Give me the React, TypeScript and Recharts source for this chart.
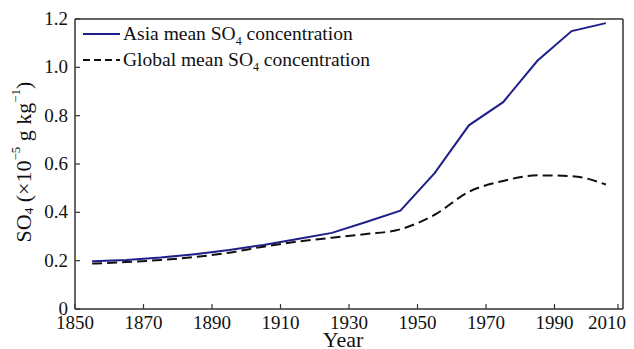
import React from "react";
import {
  LineChart,
  Line,
  XAxis,
  YAxis,
  ReferenceLine,
} from "recharts";

const years = [1855, 1865, 1875, 1885, 1895, 1905, 1915, 1925, 1935, 1945, 1955, 1965, 1975, 1985, 1995, 2005];
const asiaSO4 = [0.198, 0.203, 0.213, 0.227, 0.244, 0.265, 0.29, 0.315, 0.36, 0.407, 0.562, 0.76, 0.856, 1.027, 1.15, 1.183];
const globalSO4 = [0.188, 0.194, 0.203, 0.215, 0.233, 0.258, 0.279, 0.295, 0.31, 0.33, 0.39, 0.485, 0.53, 0.553, 0.55, 0.515];
const xTicks = [1850, 1870, 1890, 1910, 1930, 1950, 1970, 1990, 2010];
const yTicks = [0, 0.2, 0.4, 0.6, 0.8, 1.0, 1.2];

const data = years.map((year, i) => ({
  year,
  asia: asiaSO4[i],
  global: globalSO4[i],
}));

const FONT = '"Liberation Serif", "Times New Roman", serif';
const AXIS = "#333";
const ASIA = "#1f1f8a";

const XTick = ({ x, y, payload }: any) => (
  <g>
    <line x1={x} x2={x} y1={y} y2={y - 5} stroke={AXIS} strokeWidth={1.2} />
    <text
      x={payload.value === 2010 ? x - 11 : x}
      y={y + 20}
      textAnchor="middle"
      fontSize={19}
      fontFamily={FONT}
      fill="#111"
    >
      {payload.value}
    </text>
  </g>
);

const YTick = ({ x, y, payload }: any) => (
  <g>
    <line x1={x} x2={x + 5} y1={y} y2={y} stroke={AXIS} strokeWidth={1.2} />
    <text x={x - 7} y={y + 6} textAnchor="end" fontSize={19} fontFamily={FONT} fill="#111">
      {payload.value === 0 ? "0" : payload.value.toFixed(1)}
    </text>
  </g>
);

const YLabel = ({ viewBox }: any) => {
  const cx = viewBox.x + 13;
  const cy = viewBox.y + viewBox.height / 2 - 2;
  return (
    <text
      x={cx}
      y={cy}
      transform={`rotate(-90 ${cx} ${cy})`}
      textAnchor="middle"
      dominantBaseline="central"
      fontSize={22}
      fontFamily={FONT}
      fill="#111"
    >
      SO<tspan fontSize={13} dy={5}>4</tspan>
      <tspan dy={-5}> (×10</tspan>
      <tspan fontSize={13} dy={-8}>−5</tspan>
      <tspan dy={8}> g kg</tspan>
      <tspan fontSize={13} dy={-8}>−1</tspan>
      <tspan dy={8}>)</tspan>
    </text>
  );
};

const XLabel = ({ viewBox }: any) => (
  <text
    x={viewBox.x + viewBox.width / 2 - 6}
    y={347}
    textAnchor="middle"
    fontSize={22}
    fontFamily={FONT}
    fill="#111"
  >
    Year
  </text>
);

const legendRows = [
  { name: "Asia", color: ASIA, dash: undefined },
  { name: "Global", color: "#111", dash: "7 4" },
];

// drawn over the chart so it doesn't eat plot space
const LegendBox = () => (
  <div
    style={{
      position: "absolute",
      left: 83,
      top: 21,
      fontFamily: FONT,
      fontSize: 19.5,
      color: "#111",
      lineHeight: "26px",
    }}
  >
    {legendRows.map((r) => (
      <div key={r.name} style={{ display: "flex", alignItems: "center", height: 26 }}>
        <svg width={37} height={4} style={{ marginRight: 3 }}>
          <line x1={0} x2={37} y1={2} y2={2} stroke={r.color} strokeWidth={2} strokeDasharray={r.dash} />
        </svg>
        <span>
          {r.name} mean SO<sub style={{ fontSize: 12, lineHeight: 0 }}>4</sub> concentration
        </span>
      </div>
    ))}
  </div>
);

export default function App() {
  return (
    <div style={{ position: "absolute", left: 0, top: 0, width: 634, height: 349, background: "#fff" }}>
      <LineChart
        width={634}
        height={349}
        data={data}
        margin={{ top: 19, right: 11, bottom: 0, left: 10 }}
      >
        <XAxis
          dataKey="year"
          type="number"
          domain={[1850, 2010]}
          ticks={xTicks}
          height={40}
          tickSize={0}
          tickMargin={0}
          tick={<XTick />}
          axisLine={{ stroke: AXIS, strokeWidth: 1.5 }}
          label={<XLabel />}
          allowDataOverflow
        />
        <YAxis
          type="number"
          domain={[0, 1.2]}
          ticks={yTicks}
          width={65}
          tickSize={0}
          tickMargin={0}
          tick={<YTick />}
          axisLine={{ stroke: AXIS, strokeWidth: 1.5 }}
          label={<YLabel />}
          allowDataOverflow
        />
        <ReferenceLine y={1.2} stroke={AXIS} strokeWidth={1.5} />
        <ReferenceLine x={2010} stroke={AXIS} strokeWidth={1.5} />
        <Line
          dataKey="asia"
          type="linear"
          stroke={ASIA}
          strokeWidth={2}
          dot={false}
          isAnimationActive={false}
        />
        <Line
          dataKey="global"
          type="monotone"
          stroke="#111"
          strokeWidth={2}
          strokeDasharray="10 5"
          dot={false}
          isAnimationActive={false}
        />
      </LineChart>
      <LegendBox />
    </div>
  );
}
